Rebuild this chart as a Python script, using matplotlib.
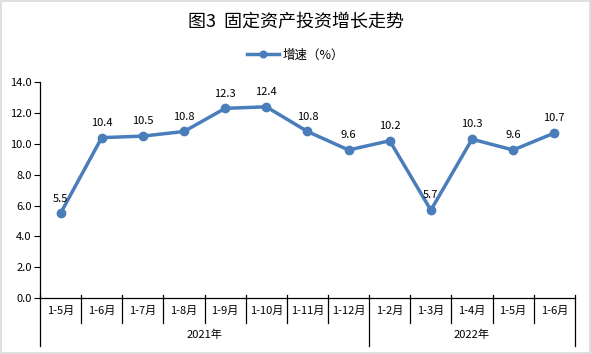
import matplotlib.pyplot as plt
from matplotlib.patches import Rectangle
import matplotlib.transforms as mtransforms

plt.rcParams['font.family'] = ['Noto Sans CJK SC', 'DejaVu Sans']

months = ["1-5月", "1-6月", "1-7月", "1-8月", "1-9月", "1-10月", "1-11月", "1-12月",
          "1-2月", "1-3月", "1-4月", "1-5月", "1-6月"]
growth = [5.5, 10.4, 10.5, 10.8, 12.3, 12.4, 10.8, 9.6, 10.2, 5.7, 10.3, 9.6, 10.7]
years = ["2021年", "2022年"]
year_counts = [8, 5]

fig = plt.figure(figsize=(5.91, 3.54), dpi=100)
ax = fig.add_axes([0.0677, 0.158, 0.905, 0.610])

x = [i + 0.5 for i in range(len(months))]
line_color = "#4a7ebb"
ax.plot(x, growth, color=line_color, linewidth=2.5, marker="o", markersize=6,
        label="增速（%）", clip_on=False)
for xi, v in zip(x, growth):
    ax.annotate(f"{v:.1f}", (xi, v), xytext=(0, 7), textcoords="offset points",
                ha="center", va="bottom", fontsize=8)

ax.set_xlim(0, len(months))
ax.set_ylim(0, 14)
ax.set_yticks([0, 2, 4, 6, 8, 10, 12, 14])
ax.set_yticklabels([f"{v:.1f}" for v in range(0, 15, 2)], fontsize=8)
ax.tick_params(axis="y", direction="out", length=4, width=0.8, pad=2)
ax.set_xticks([])
for side in ["top", "right"]:
    ax.spines[side].set_visible(False)
ax.spines["left"].set_linewidth(0.9)
ax.spines["bottom"].set_linewidth(0.9)

trans = mtransforms.blended_transform_factory(ax.transData, ax.transAxes)
bounds = [0]
for c in year_counts:
    bounds.append(bounds[-1] + c)
for i in range(len(months) + 1):
    if i in bounds:
        ax.plot([i, i], [0.014, -0.222], color="black", lw=0.9, transform=trans, clip_on=False)
    else:
        ax.plot([i, i], [0.014, -0.116], color="black", lw=0.9, transform=trans, clip_on=False)

for xi, m in zip(x, months):
    ax.text(xi, -0.06, m, transform=trans, ha="center", va="center", fontsize=8)
for k, yname in enumerate(years):
    ax.text((bounds[k] + bounds[k + 1]) / 2, -0.168, yname, transform=trans,
            ha="center", va="center", fontsize=8)

fig.text(0.5, 0.938, "图3  固定资产投资增长走势", ha="center", va="center", fontsize=13)
ax.legend(loc="center", bbox_to_anchor=(0.5, 0.845), bbox_transform=fig.transFigure,
          frameon=False, fontsize=9, handlelength=2.5, handletextpad=0.3, markerscale=0.8)

fig.patches.append(Rectangle((0.002, 0.003), 0.996, 0.994, transform=fig.transFigure,
                             fill=False, edgecolor="#d9d9d9", linewidth=1.2))

fig.savefig("out.png", dpi=100)
